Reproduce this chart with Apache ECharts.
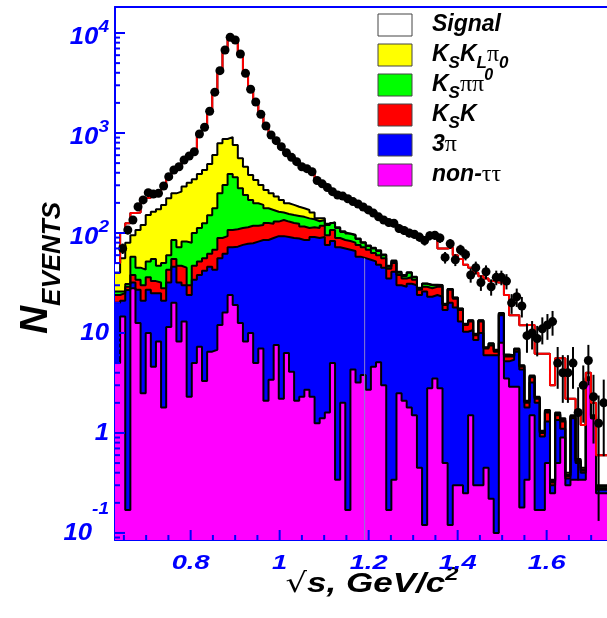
<!DOCTYPE html>
<html>
<head>
<meta charset="utf-8">
<script src="https://cdn.jsdelivr.net/npm/echarts@6/dist/echarts.min.js"></script>
</head>
<body style="margin: 0; background: #fff">
<div id="chart" style="width: 607px; height: 618px"></div>
<script type="text/javascript">
// binning of the sqrt(s) histogram
var binLow = 0.63, binWidth = 0.0115;

// per-bin contents of each MC component (bottom of the stack first)
var nonTauTau = [5, 14.6, 0.17, 28, 12.6, 2.5, 10, 4.6, 8.2, 1.8,
    11.5, 20, 8.2, 13, 2.3, 5, 7.3, 3.3, 6.5, 6.8,
    12, 16, 24, 19, 12.6, 8.2, 10, 5, 7, 2.1,
    3.4, 7.6, 2.2, 6.3, 4.1, 2.1, 2.3, 2.7, 2.3, 1.25,
    1.4, 1.6, 5, 0.34, 2.0, 0.17, 4.3, 3.2, 3.8, 2.7,
    4.6, 5.1, 3.0, 0.17, 0.34, 2.5, 2.1, 1.8, 1.5, 0.45,
    0.12, 2.8, 3.5, 2.8, 0.5, 0.12, 0.3, 0.3, 0.25, 1.5,
    0.3, 0.3, 0.45, 0.22, 0.1, 8, 3.5, 2.9, 2.9, 0.18,
    0.34, 1.5, 0.17, 0.17, 0.5, 0.25, 0.5, 0.9, 0.3, 0.34,
    0.34, 0.34, 3.4, 1.4, 0.25, 0.25, 0.25];
var threePi = [15, 6.4, 26.8, 4, 14.4, 18.5, 17, 20.4, 16.8, 19.2,
    20.5, 26, 23.8, 17, 21.7, 29, 30.7, 38.7, 39.5, 36.2,
    44, 46, 48, 54, 63.4, 69.8, 69, 77, 78, 82.9,
    85.6, 85.4, 90.8, 84.7, 84.9, 85.9, 82.7, 82.3, 88.7, 87.75,
    89.6, 74.4, 78, 71.66, 68, 67.83, 61.7, 54.8, 52.2, 51.3,
    47.4, 42.9, 42, 34.83, 40.66, 27.5, 26.9, 29.2, 28.5, 23.55,
    25.88, 20.2, 20.5, 20.2, 16.5, 19.88, 17.7, 12.7, 10.05, 9.2,
    8.2, 9.7, 5.55, 5.78, 5.9, 7, 1.7, 2.5, 3.6, 4.12,
    1.46, 1.7, 1.83, 0.75, 0.8, 0.05, 0.85, 0.2, 0.05, 1.06,
    0.16, 0.06, 0, 0, 0.02, 0.02, 0.02];
var ksK = [4, 4, 2, 6, 7, 9, 9, 8, 7, 7,
    11, 9, 15, 15, 6, 13, 14, 14, 16, 25,
    33, 31, 35, 36, 36, 36, 39, 36, 35, 41,
    35, 37, 42, 39, 37, 36, 31, 27, 23, 23,
    27, 19, 24, 17, 15, 15, 14, 18, 16, 14,
    11, 12, 11, 9, 9, 8, 6, 5, 4, 3,
    3, 5, 5, 6, 2, 7, 4, 4, 1.7, 2.3,
    1.0, 3.0, 1.0, 1.5, 0.5, 0.5, 0.6, 0.4, 0.3, 0.3,
    0.2, 0.4, 0.2, 0.08, 0.3, 0.02, 0.15, 0.2, 0.02, 0.05,
    0.02, 0.02, 0.1, 0.05, 0.01, 0.01, 0.01];
var ksPiPi0 = [2, 1, 2, 20, 11, 13, 16, 22, 15, 22,
    17, 30, 25, 37, 50, 53, 60, 69, 88, 109,
    160, 209, 282, 251, 168, 126, 96, 80, 71, 51,
    46, 33, 25, 25, 25, 24, 29, 28, 23, 19,
    17, 25, 19, 23, 17, 15, 15, 11, 8, 6,
    7, 6, 4, 2, 2, 2, 2, 4, 2, 1,
    2, 2, 1, 1, 0.5, 0.5, 0.5, 0.5, 0.3, 0.3,
    0.2, 0.3, 0.1, 0.3, 0.2, 0.2, 0.2, 0.1, 0.1, 0.1,
    0.05, 0.1, 0.05, 0.02, 0.05, 0.01, 0.05, 0.05, 0.01, 0.02,
    0.01, 0.01, 0.05, 0.02, 0.01, 0.01, 0.01];
var ksKlPi = [14, 30, 49, 37, 62, 77, 99, 108, 126, 141,
    162, 164, 187, 209, 238, 244, 277, 302, 340, 426,
    539, 568, 521, 399, 278, 220, 166, 141, 111, 92,
    79, 68, 54, 43, 40, 35, 32, 30, 23, 9,
    5, 4, 2, 2, 2, 1, 1, 1, 1, 1,
    1, 1, 1, 1, 1, 1, 1, 0.5, 0.5, 0.3,
    0.3, 0.3, 0.3, 0.2, 0.1, 0.1, 0.1, 0.1, 0.1, 0.1,
    0.1, 0.1, 0.1, 0.1, 0.1, 0.1, 0.1, 0.1, 0.1, 0.05,
    0.05, 0.05, 0.05, 0.03, 0.05, 0.01, 0.05, 0.05, 0.02, 0.03,
    0.02, 0.02, 0.05, 0.03, 0.01, 0.01, 0.01];
var signal = [10, 44, 45, 63, 53, 104, 74, 87, 77, 104,
    144, 178, 201, 246, 271, 306, 588, 713, 1140, 1927,
    3412, 5890, 8150, 7841, 5612, 3490, 2360, 1701, 1238, 906,
    706, 607, 516, 437, 380, 334, 283, 257, 250, 186,
    162, 156, 131, 126, 130, 123, 110, 107, 102, 95,
    87, 78, 74, 79, 72, 70, 68, 59.5, 60.5, 61.7,
    54.7, 60.7, 61.7, 39.8, 50.4, 44.4, 37.4, 37.4, 35.6, 31.6,
    30.2, 23.6, 27.8, 25.1, 25.2, 16.2, 17.9, 9.0, 8.0, 7.2,
    9.9, 8.25, 3.9, 5.15, 4.5, 2.66, 4.0, 4.2, 1.8, 0.7,
    1.05, 0.75, 0.4, 0.5, 0.3, 0.3, 0.3];

// measured events per bin (first bin empty)
var dataCounts = [null, 70, 107, 135, 183, 214, 253, 245, 249, 295,
    366, 427, 460, 537, 589, 650, 977, 1140, 1650, 2560,
    4200, 6760, 9060, 8510, 6170, 3950, 2740, 2040, 1540, 1175,
    955, 838, 730, 635, 571, 517, 460, 440, 410, 335,
    310, 285, 259, 240, 234, 220, 206, 195, 182, 170,
    158, 145, 135, 127, 125, 111, 106, 100, 97, 91,
    84, 94, 95, 89, 57, 78, 54, 68, 61, 38,
    45, 32, 41, 29, 36, 36, 33, 20, 23, 18.6,
    9.4, 10, 8.8, 11, 12, 13, 5, 4, 4, 5,
    1.6, 3, 5.3, 2.3, 1.25, 2.0, 0.5];

// axis ticks
var xTickValues = [0.8, 1.0, 1.2, 1.4, 1.6];
var xTickLabels = ['0.8', '1', '1.2', '1.4', '1.6'];
var yDecades = [0.1, 1, 10, 100, 1000, 10000];
var yDecadeLabels = [['10', '-1'], ['1', ''], ['10', ''], ['10', '2'], ['10', '3'], ['10', '4']];

// thin seam visible in the original stack drawing
var seamX = 1.191;

var xMin = 0.63, xMax = 1.7356, yMin = 0.085, yMax = 18200;
var BLUE = '#0000ff';
var FONT = 'Liberation Sans';

var layerNames = ['non-tautau', '3pi', 'KsK', 'Kspipi0', 'KsKLpi', 'Signal'];
var layerColors = ['#ff00ff', '#0000ff', '#ff0000', '#00ff00', '#ffff00', '#ffffff'];
var layerValues = [nonTauTau, threePi, ksK, ksPiPi0, ksKlPi, signal];
var nBins = signal.length;

// THStack style: each layer is drawn as the running sum
var running = [];
for (var i = 0; i < nBins; i++) running.push(0);
var stacked = layerValues.map(function (arr) {
    running = running.map(function (s, i) { return s + arr[i]; });
    return running;
});

function histPoints(vals) {
    var pts = vals.map(function (v, i) { return [binLow + i * binWidth, v]; });
    pts.push([binLow + nBins * binWidth, vals[nBins - 1]]);
    return pts;
}

var series = [];
for (var k = layerValues.length - 1; k >= 0; k--) {
    series.push({
        type: 'line', name: layerNames[k], data: histPoints(stacked[k]),
        step: 'end', symbol: 'none', silent: true, z: 2,
        lineStyle: { color: '#000', width: 2 },
        itemStyle: { color: layerColors[k] },
        areaStyle: { color: layerColors[k], opacity: 1, origin: 'start' }
    });
}
// total MC in red
series.push({
    type: 'line', name: 'total', data: histPoints(stacked[5]),
    step: 'end', symbol: 'none', silent: true, z: 3,
    lineStyle: { color: '#ff0000', width: 2 }
});

// seam line through the 3pi and non-tautau fills
var seamBin = Math.floor((seamX - binLow) / binWidth);
series.push({
    type: 'custom', name: 'seam', clip: true, silent: true, z: 2.5,
    data: [[seamX, stacked[1][seamBin]]], encode: { x: 0, y: 1 },
    renderItem: function (params, api) {
        var top = api.coord([api.value(0), api.value(1)]);
        var bot = api.coord([api.value(0), yMin]);
        return {
            type: 'line',
            shape: { x1: top[0], y1: top[1], x2: bot[0], y2: bot[1] },
            style: { stroke: '#8a7fd0', lineWidth: 1 }
        };
    }
});

var points = [], errors = [];
dataCounts.forEach(function (v, i) {
    if (v == null) return;
    var x = binLow + (i + 0.5) * binWidth;
    points.push([x, v]);
    errors.push([x, v, Math.sqrt(v)]);
});

series.push({
    type: 'custom', name: 'errors', clip: true, silent: true, z: 4,
    data: errors, encode: { x: 0, y: 1 },
    renderItem: function (params, api) {
        var x = api.value(0), v = api.value(1), e = api.value(2);
        var top = api.coord([x, v + e]);
        var bot = api.coord([x, Math.max(v - e, 1e-4)]);
        return {
            type: 'line',
            shape: { x1: top[0], y1: top[1], x2: bot[0], y2: bot[1] },
            style: { stroke: '#000', lineWidth: 2 }
        };
    }
});
series.push({
    type: 'scatter', name: 'data', data: points, symbolSize: 9, silent: true, z: 5,
    itemStyle: { color: '#000', opacity: 1 }
});

// axis ticks and labels (ROOT style, ticks inside the frame)
var yTickData = [];
for (var e = -2; e <= 4; e++) {
    for (var m = 1; m <= 9; m++) {
        var v = m * Math.pow(10, e);
        if (v < yMin || v > yMax) continue;
        yTickData.push([xMin, v, m === 1 ? yDecades.indexOf(Math.pow(10, e)) : -1]);
    }
}
var xTickData = [];
for (var t = 0.65; t < xMax; t += 0.05) {
    var tv = Math.round(t * 100) / 100;
    var idx = -1;
    xTickValues.forEach(function (xv, j) { if (Math.abs(xv - tv) < 1e-6) idx = j; });
    xTickData.push([tv, yMin, idx]);
}

var labelFont = { fontWeight: 'bold', fontStyle: 'italic', fontFamily: FONT, fill: BLUE, color: BLUE };
var yRich = {
    b: Object.assign({ fontSize: 23, verticalAlign: 'bottom' }, labelFont),
    p: Object.assign({ fontSize: 17, verticalAlign: 'top', padding: [0, 0, 14, 0] }, labelFont),
    q: Object.assign({ fontSize: 17, verticalAlign: 'top', padding: [0, 0, 28, 0] }, labelFont),
    c: Object.assign({ fontSize: 23 }, labelFont)
};

series.push({
    type: 'custom', name: 'yticks', silent: true, z: 10,
    data: yTickData, encode: { x: 0, y: 1 },
    renderItem: function (params, api) {
        var idx = api.value(2);
        var p = api.coord([xMin, api.value(1)]);
        var kids = [{
            type: 'line',
            shape: { x1: p[0], y1: p[1], x2: p[0] + (idx >= 0 ? 10 : 5), y2: p[1] },
            style: { stroke: BLUE, lineWidth: 2 }
        }];
        if (idx >= 0) {
            var lab = yDecadeLabels[idx];
            var neg = lab[1].charAt(0) === '-';
            var text = !lab[1] ? '{c|' + lab[0] + '}'
                : '{b|' + lab[0] + '}{' + (neg ? 'q' : 'p') + '|' + lab[1] + '}';
            kids.push({
                type: 'text', x: p[0] - 6, y: p[1] + (neg ? -10 : 1), scaleX: 1.12,
                style: { text: text, rich: yRich, align: 'right', verticalAlign: 'middle' }
            });
        }
        return { type: 'group', children: kids };
    }
});
series.push({
    type: 'custom', name: 'xticks', silent: true, z: 10,
    data: xTickData, encode: { x: 0, y: 1 },
    renderItem: function (params, api) {
        var idx = api.value(2);
        var p = api.coord([api.value(0), yMin]);
        var kids = [{
            type: 'line',
            shape: { x1: p[0], y1: p[1], x2: p[0], y2: p[1] - (idx >= 0 ? 10 : 5) },
            style: { stroke: BLUE, lineWidth: 2 }
        }];
        if (idx >= 0) {
            kids.push({
                type: 'text', x: p[0], y: p[1] + 23, scaleX: 1.3,
                style: {
                    text: xTickLabels[idx], fontSize: 21, fontWeight: 'bold', fontStyle: 'italic',
                    fontFamily: FONT, fill: BLUE, align: 'center', verticalAlign: 'middle'
                }
            });
        }
        return { type: 'group', children: kids };
    }
});

// legend rows: box colour + label
var legendRows = [
    ['#ffffff', '{t|Signal}'],
    ['#ffff00', '{t|K}{s|S}{t|K}{s|L}{g|π}{s|0}'],
    ['#00ff00', '{t|K}{s|S}{g|ππ}{p|0}'],
    ['#ff0000', '{t|K}{s|S}{t|K}'],
    ['#0000ff', '{t|3}{g|π}'],
    ['#ff00ff', '{t|non-}{g|ττ}']
];
var txt = { fontWeight: 'bold', fontStyle: 'italic', fontFamily: FONT, fill: '#000', color: '#000' };
var legendRich = {
    t: Object.assign({ fontSize: 23, lineHeight: 34 }, txt),
    s: Object.assign({ fontSize: 17, verticalAlign: 'bottom' }, txt),
    p: Object.assign({ fontSize: 16, verticalAlign: 'top' }, txt),
    g: { fontSize: 24, fontFamily: 'Liberation Serif', fill: '#000', color: '#000' }
};
var graphics = [];
legendRows.forEach(function (row, r) {
    graphics.push({
        type: 'rect', x: 378, y: 14 + 30 * r, silent: true,
        shape: { width: 34, height: 22 },
        style: { fill: row[0], stroke: '#444', lineWidth: 1 }
    });
    graphics.push({
        type: 'text', x: 432, y: 25 + 30 * r, silent: true,
        style: { text: row[1], rich: legendRich, align: 'left', verticalAlign: 'middle' }
    });
});
// axis titles
graphics.push({
    type: 'text', x: 372, y: 582, scaleX: 1.25, silent: true,
    style: {
        text: '{r|√}{i|s, GeV/c}{p|2}', align: 'center', verticalAlign: 'middle',
        rich: {
            r: { fontSize: 27, fontFamily: 'DejaVu Sans', fill: '#000', verticalAlign: 'bottom' },
            i: { fontSize: 28, fontWeight: 'bold', fontStyle: 'italic', fontFamily: FONT, fill: '#000', verticalAlign: 'bottom' },
            p: { fontSize: 19, fontWeight: 'bold', fontStyle: 'italic', fontFamily: FONT, fill: '#000', verticalAlign: 'top', padding: [0, 0, 14, 0] }
        }
    }
});
graphics.push({
    type: 'text', x: 41, y: 268, rotation: Math.PI / 2, silent: true,
    style: {
        text: '{n|N}{e|EVENTS}', align: 'center', verticalAlign: 'middle',
        rich: {
            n: { fontSize: 39, fontWeight: 'bold', fontStyle: 'italic', fontFamily: FONT, fill: '#000', verticalAlign: 'top' },
            e: { fontSize: 26, fontWeight: 'bold', fontStyle: 'italic', fontFamily: FONT, fill: '#000', verticalAlign: 'bottom', padding: [23, 0, 0, 0] }
        }
    }
});

var option = {
    animation: false,
    backgroundColor: '#fff',
    textStyle: { fontFamily: FONT },
    grid: { left: 115, right: 0, top: 7, bottom: 78 },
    xAxis: [{
        type: 'value', min: xMin, max: xMax,
        axisLine: { show: true, onZero: false, lineStyle: { color: BLUE, width: 2 } },
        axisTick: { show: false }, axisLabel: { show: false }, splitLine: { show: false }
    }, {
        type: 'value', position: 'top', min: xMin, max: xMax,
        axisLine: { show: true, onZero: false, lineStyle: { color: BLUE, width: 2 } },
        axisTick: { show: false }, axisLabel: { show: false }, splitLine: { show: false }
    }],
    yAxis: {
        type: 'log', logBase: 10, min: yMin, max: yMax,
        axisLine: { show: true, onZero: false, lineStyle: { color: BLUE, width: 2 } },
        axisTick: { show: false }, axisLabel: { show: false }, splitLine: { show: false }
    },
    graphic: graphics,
    series: series
};

var chart = echarts.init(document.getElementById('chart'));
chart.setOption(option);
</script>
</body>
</html>
